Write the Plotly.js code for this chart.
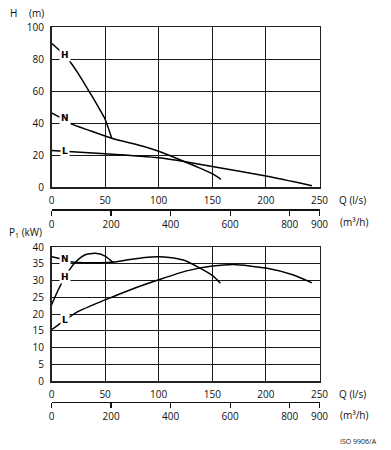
<!DOCTYPE html>
<html>
<head>
<meta charset="utf-8">
<script src="https://cdn.plot.ly/plotly-3.0.1.min.js"></script>
<style>html,body{margin:0;padding:0;background:#fff;}#chart{width:391px;height:450px;}</style>
</head>
<body>
<div id="chart"></div>
<script>
// ---- Data ----
// Head curves, H (m) vs Q (l/s)
const qHeadH = [0, 10, 17.3, 25, 34.3, 40, 45.3, 50, 56.2];
const headH  = [90, 84, 78.5, 71, 60.8, 54.5, 48.3, 42.5, 30.6];
const qHeadN = [0, 12, 17.3, 35, 56.2, 87, 100, 117, 135, 150, 158];
const headN  = [46.5, 42.2, 40, 35.6, 30.6, 25.4, 22.5, 18, 13, 8.5, 5];
const qHeadL = [0, 50, 100, 125, 150, 200, 243];
const headL  = [23, 21, 18.5, 16, 13, 7, 1];
// Power curves, P1 (kW) vs Q (l/s)
const qPowH = [0, 6, 12.6, 21.9, 31, 40.8, 50, 57.7];
const powH  = [22.7, 27, 31.1, 35.3, 37.6, 38.1, 37.3, 35.3];
const qPowN = [0, 12, 17, 30, 45, 57.7, 70, 87, 100, 110, 123, 138.5, 150, 157.5];
const powN  = [37.1, 36.2, 35.6, 35.3, 35.3, 35.5, 36.1, 36.9, 37.1, 36.9, 36.1, 33.7, 31.5, 29.2];
const qPowL = [0, 12.6, 25, 50, 75, 100, 125, 150, 170, 200, 225, 243];
const powL  = [15.3, 18.2, 20.8, 24.2, 27.4, 30.2, 32.8, 34.3, 34.8, 33.7, 31.7, 29.3];
// Axis ticks
const qTicks = [0, 50, 100, 150, 200, 250];
const m3hTicks = [0, 200, 400, 600, 800, 900];
const headTicks = [0, 20, 40, 60, 80, 100];
const powTicks = [0, 5, 10, 15, 20, 25, 30, 35, 40];
// Curve labels [name, Q, value]
const headLabels = [["H", 12.6, 82.7], ["N", 12.6, 43.1], ["L", 12.2, 22.9]];
const powLabels  = [["N", 12.6, 36.3], ["H", 12.6, 31.1], ["L", 12.6, 18.2]];

const W = 391, Hh = 450;
const px = v => v / W;
const py = v => 1 - v / Hh;

const lineStyle = {color: '#000', width: 1.5, shape: 'spline', smoothing: 0.6};
function curve(x, y, xa, ya) {
  return {type: 'scatter', mode: 'lines', x: x, y: y, xaxis: xa, yaxis: ya,
          line: lineStyle, hoverinfo: 'skip', showlegend: false};
}
const data = [
  curve(qHeadH, headH, 'x', 'y'),
  curve(qHeadN, headN, 'x', 'y'),
  curve(qHeadL, headL, 'x', 'y'),
  curve(qPowH, powH, 'x2', 'y2'),
  curve(qPowN, powN, 'x2', 'y2'),
  curve(qPowL, powL, 'x2', 'y2'),
  {type: 'scatter', mode: 'lines', x: m3hTicks, y: m3hTicks.map(() => null), xaxis: 'x3', yaxis: 'y', showlegend: false, hoverinfo: 'skip'},
  {type: 'scatter', mode: 'lines', x: m3hTicks, y: m3hTicks.map(() => null), xaxis: 'x4', yaxis: 'y2', showlegend: false, hoverinfo: 'skip'}
];

const tickFont = {family: 'Open Sans, DejaVu Sans, sans-serif', size: 10, color: '#111'};
const xDomain = [px(51.5), px(319.5)];
const gridC = '#1a1a1a';
function qAxis(anchor) {
  return {domain: xDomain, anchor: anchor, range: [0, 250], tickvals: qTicks,
          showgrid: true, gridcolor: gridC, gridwidth: 1,
          showline: true, mirror: true, linecolor: '#222', linewidth: 1.5,
          ticks: '', tickfont: tickFont, ticklabelstandoff: 3, zeroline: false, fixedrange: true};
}
function vAxis(domain, range, ticks, anchor) {
  return {domain: domain, anchor: anchor, range: range, tickvals: ticks,
          showgrid: true, gridcolor: gridC, gridwidth: 1,
          showline: true, mirror: true, linecolor: '#222', linewidth: 1.5,
          ticks: '', tickfont: tickFont, ticklabelstandoff: 4, zeroline: false, fixedrange: true};
}
function m3hAxis(over, pos) {
  return {overlaying: over, anchor: 'free', position: pos, range: [0, 900], tickvals: m3hTicks,
          showgrid: false, showline: true, linecolor: '#111', linewidth: 1.3,
          ticks: 'outside', ticklen: 5, tickwidth: 1.3, tickcolor: '#111',
          tickfont: tickFont, zeroline: false, fixedrange: true};
}
const yTop = vAxis([py(187.3), py(27.3)], [0, 100], headTicks, 'x');
const yBot = vAxis([py(381), py(247)], [0, 40], powTicks, 'x2');

const txtFont = {family: 'Open Sans, DejaVu Sans, sans-serif', size: 10, color: '#111'};
function paperText(text, x, y, xanchor, font) {
  return {text: text, xref: 'paper', yref: 'paper', x: px(x), y: py(y), xanchor: xanchor, yanchor: 'middle',
          showarrow: false, font: font || txtFont};
}
const annotations = [
  paperText('H', 13, 13, 'center'),
  paperText('(m)', 36, 13, 'center'),
  paperText('P<sub>1</sub> (kW)', 7, 232, 'left'),
  paperText('Q (l/s)', 337, 200, 'left'),
  paperText('(m³/h)', 338, 221.5, 'left'),
  paperText('Q (l/s)', 337, 393.5, 'left'),
  paperText('(m³/h)', 338, 414.5, 'left'),
  paperText('ISO 9906/A', 358, 441.5, 'center', {family: 'Open Sans, DejaVu Sans, sans-serif', size: 7, color: '#222'})
];
const labFont = {family: 'DejaVu Sans, sans-serif', size: 9, color: '#000', weight: 'bold'};
headLabels.forEach(l => annotations.push({text: '<b>' + l[0] + '</b>', xref: 'x', yref: 'y', x: l[1], y: l[2],
  showarrow: false, bgcolor: '#fff', borderpad: 1, font: labFont}));
powLabels.forEach(l => annotations.push({text: '<b>' + l[0] + '</b>', xref: 'x2', yref: 'y2', x: l[1], y: l[2],
  showarrow: false, bgcolor: '#fff', borderpad: 1, font: labFont}));

const layout = {
  width: W, height: Hh,
  margin: {l: 0, r: 0, t: 0, b: 0},
  paper_bgcolor: '#fff', plot_bgcolor: '#fff',
  showlegend: false,
  xaxis: qAxis('y'),
  yaxis: yTop,
  xaxis2: qAxis('y2'),
  yaxis2: yBot,
  xaxis3: m3hAxis('x', py(209.3)),
  xaxis4: m3hAxis('x2', py(402)),
  annotations: annotations
};
Plotly.newPlot('chart', data, layout, {staticPlot: true, displayModeBar: false});
</script>
</body>
</html>
